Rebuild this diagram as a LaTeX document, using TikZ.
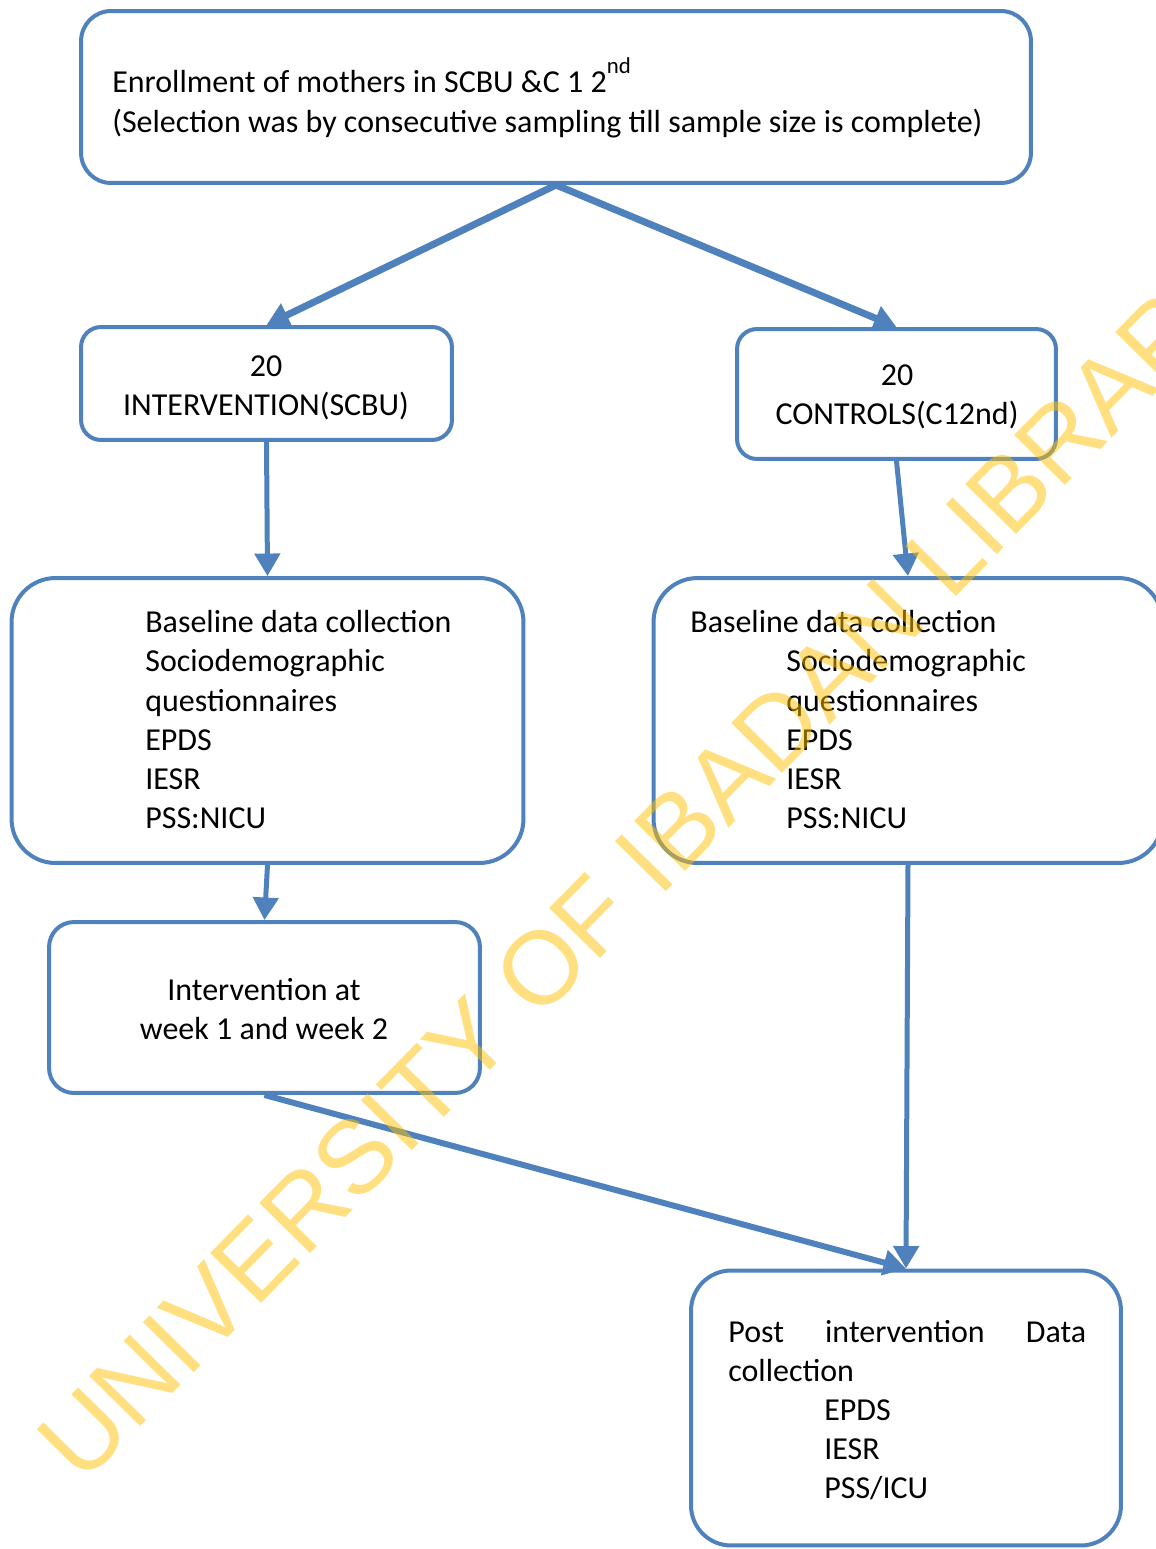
\documentclass[tikz,border=0pt]{standalone}
\usepackage{fontspec}
\setmainfont{Carlito}
\newfontfamily\wmfont{Liberation Sans}
\usetikzlibrary{arrows.meta}
\definecolor{boxblue}{HTML}{4F81BD}
\definecolor{wmyellow}{HTML}{FFC000}

\begin{document}
\begin{tikzpicture}[x=0.02cm,y=-0.02cm,
  box/.style={draw=boxblue,line width=0.08cm,rectangle,inner sep=0pt},
  txt/.style={inner sep=0pt,font=\fontsize{18.2}{22.2}\selectfont},
  arr/.style={draw=boxblue,-{Triangle[length=0.45cm,width=0.5cm]}}]
\useasboundingbox (0,0) rectangle (1156,1549);
\clip (0,0) rectangle (1156,1549);

% boxes
\node[box,rounded corners=0.6cm,minimum width=19cm,minimum height=3.44cm] (top) at (556,97) {};
\node[box,rounded corners=0.4cm,minimum width=7.42cm,minimum height=2.26cm] (interv) at (266.5,383.5) {};
\node[box,rounded corners=0.4cm,minimum width=6.38cm,minimum height=2.6cm] (ctrl) at (896.5,394) {};
\node[box,rounded corners=0.88cm,minimum width=10.24cm,minimum height=5.7cm] (baseL) at (267.5,720.5) {};
\node[box,rounded corners=0.88cm,minimum width=10.18cm,minimum height=5.7cm] (baseR) at (908,720.5) {};
\node[box,rounded corners=0.5cm,minimum width=8.62cm,minimum height=3.42cm] (weeks) at (264.5,1007.5) {};
\node[box,rounded corners=0.8cm,minimum width=8.6cm,minimum height=5.5cm] (post) at (906,1408) {};

% texts (base = last line)
\node[txt,anchor=base west,align=left] (toptxt) at (112,132)
  {Enrollment of mothers in SCBU \&C 1 2\raisebox{0.6em}{\fontsize{13}{13}\selectfont nd}\\(Selection was by consecutive sampling till sample size is complete)};
\node[txt,anchor=base,align=center] (intervtxt) at (266,415) {20\\INTERVENTION(SCBU)};
\node[txt,anchor=base,align=center] (ctrltxt) at (897,424) {20\\CONTROLS(C12nd)};
\node[txt,anchor=base west,align=left] (baseLtxt) at (145,828)
  {Baseline data collection\\Sociodemographic\\questionnaires\\EPDS\\IESR\\PSS:NICU};
\node[txt,anchor=base west,align=left] (baseRtxt) at (690,828)
  {Baseline data collection\\\hspace*{1.92cm}Sociodemographic\\\hspace*{1.92cm}questionnaires\\\hspace*{1.92cm}EPDS\\\hspace*{1.92cm}IESR\\\hspace*{1.92cm}PSS:NICU};
\node[txt,anchor=base,align=center] (weekstxt) at (264,1039) {Intervention at\\week 1 and week 2};
\node[txt,anchor=base west,align=left] (posttxt) at (728,1498)
  {\makebox[7.16cm][s]{Post intervention Data}\\collection\\\hspace*{1.92cm}EPDS\\\hspace*{1.92cm}IESR\\\hspace*{1.92cm}PSS/ICU};

% arrows
\foreach \a/\b/\w in {top/interv/0.14cm,top/ctrl/0.14cm,interv/baseL/0.1cm,ctrl/baseR/0.1cm,
                      baseL/weeks/0.1cm,weeks/post/0.12cm,baseR/post/0.1cm}
  \draw[arr,line width=\w] (\a.south) -- (\b.north);

% watermark
\node[font=\wmfont\fontsize{59}{59}\selectfont,text=wmyellow,text opacity=0.5,
      anchor=base west,rotate=45.5,inner sep=0pt] (wm) at (82,1486) {UNIVERSITY OF IBADAN LIBRARY};
\end{tikzpicture}
\end{document}
